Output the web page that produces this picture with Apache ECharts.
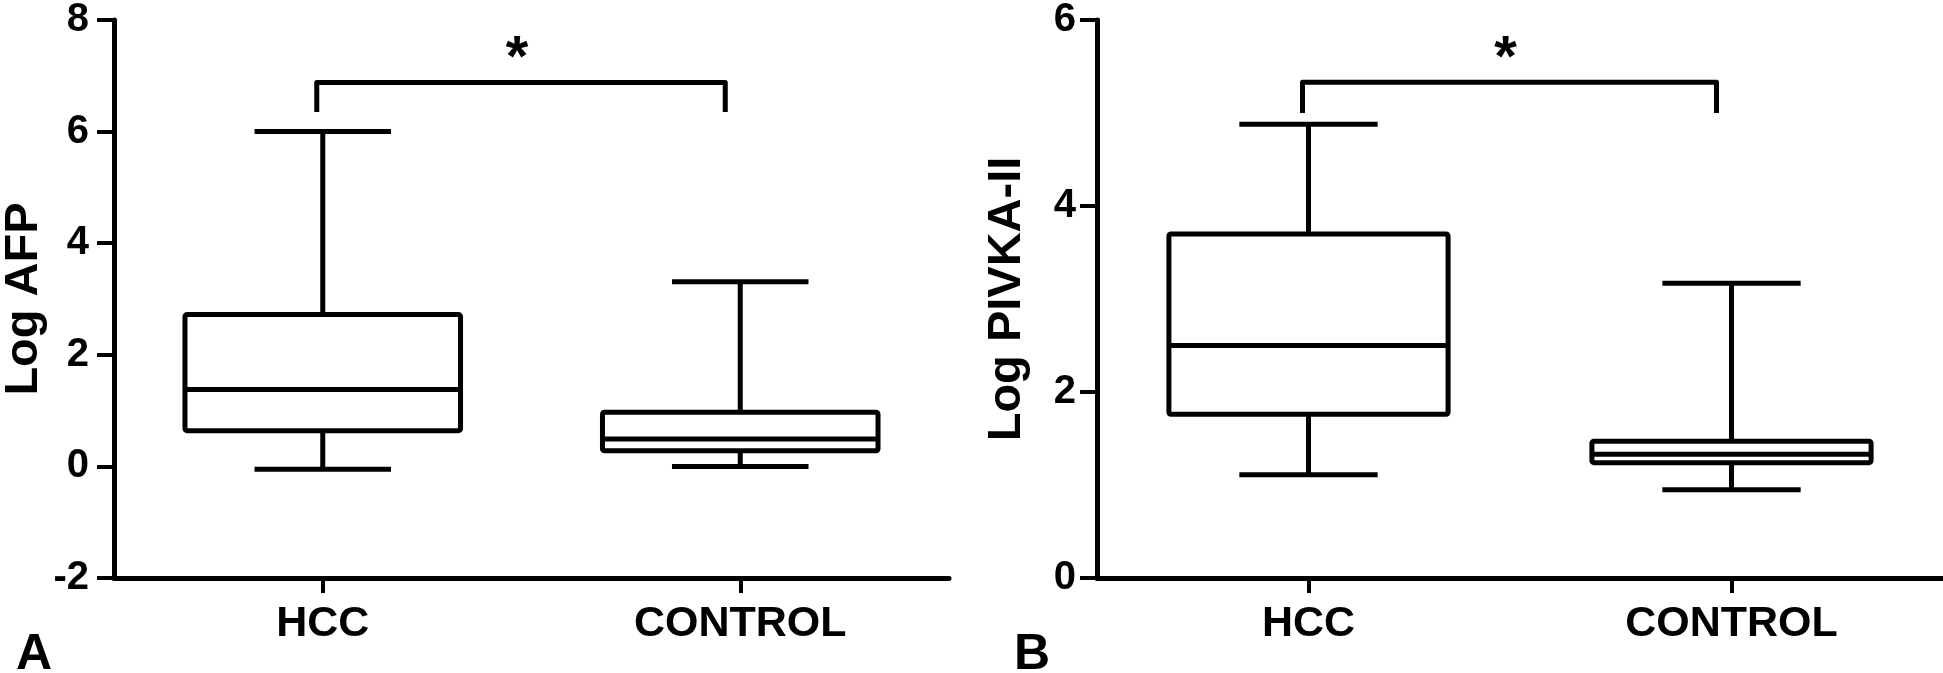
<!DOCTYPE html>
<html>
<head>
<meta charset="utf-8">
<script src="https://cdn.jsdelivr.net/npm/echarts@6/dist/echarts.min.js"></script>
<style>
  html, body { margin: 0; padding: 0; background: #fff; }
  #chart { width: 1943px; height: 673px; }
</style>
</head>
<body>
<div id="chart"></div>
<script>
// categories
var groups = ['HCC', 'CONTROL'];

// box values: [min, Q1, median, Q3, max]
var afpHCC = [-0.05, 0.64, 1.38, 2.72, 6.0];
var afpControl = [0.0, 0.28, 0.49, 0.97, 3.31];
var pivkaHCC = [1.11, 1.76, 2.5, 3.7, 4.88];
var pivkaControl = [0.95, 1.24, 1.33, 1.47, 3.17];

// significance bracket: [from, to, leg bottom, top]
var sigAfp = [0, 1, 6.35, 6.88];
var sigPivka = [0, 1, 5.0, 5.33];

var FONT = '"Liberation Sans", Arial, sans-serif';

function boxItem(i, v) {
  return [i, v[0], v[1], v[2], v[3], v[4]];
}

// 箱线图：须线端帽比箱子窄
function renderBox(params, api) {
  var x = api.value(0);
  var band = api.size([1, 0])[0];
  var boxW = band * 0.66, capW = band * 0.327;
  var pMin = api.coord([x, api.value(1)]);
  var pQ1 = api.coord([x, api.value(2)]);
  var pMed = api.coord([x, api.value(3)]);
  var pQ3 = api.coord([x, api.value(4)]);
  var pMax = api.coord([x, api.value(5)]);
  var cx = pMed[0];
  var st = { stroke: '#000', lineWidth: 5, fill: null };
  return {
    type: 'group',
    children: [
      { type: 'line', shape: { x1: cx, y1: pQ3[1], x2: cx, y2: pMax[1] }, style: st },
      { type: 'line', shape: { x1: cx - capW / 2, y1: pMax[1], x2: cx + capW / 2, y2: pMax[1] }, style: st },
      { type: 'line', shape: { x1: cx, y1: pQ1[1], x2: cx, y2: pMin[1] }, style: st },
      { type: 'line', shape: { x1: cx - capW / 2, y1: pMin[1], x2: cx + capW / 2, y2: pMin[1] }, style: st },
      { type: 'rect', shape: { x: cx - boxW / 2, y: pQ3[1], width: boxW, height: pQ1[1] - pQ3[1], r: 2 }, style: { stroke: '#000', lineWidth: 5, fill: '#fff' } },
      { type: 'line', shape: { x1: cx - boxW / 2, y1: pMed[1], x2: cx + boxW / 2, y2: pMed[1] }, style: st }
    ]
  };
}

// 显著性括号 + 星号（括号两脚略向左偏）
function renderSig(params, api) {
  var a0 = api.coord([api.value(0), api.value(2)]);
  var a1 = api.coord([api.value(0), api.value(3)]);
  var b1 = api.coord([api.value(1), api.value(3)]);
  var b0 = api.coord([api.value(1), api.value(2)]);
  var xa = a1[0] - 6, xb = b1[0] - 15;
  return {
    type: 'group',
    children: [
      { type: 'polyline', shape: { points: [[xa, a0[1]], [xa, a1[1]], [xb, b1[1]], [xb, b0[1]]] }, style: { stroke: '#000', lineWidth: 5, fill: null, lineJoin: 'round' } },
      { type: 'text', style: { text: '*', x: (xa + xb) / 2 - 4, y: a1[1] - 22, align: 'center', verticalAlign: 'middle', fill: '#000', font: 'bold 58px ' + FONT } }
    ]
  };
}

function xAxisOpt(idx) {
  return {
    type: 'category',
    gridIndex: idx,
    data: groups,
    axisLine: { onZero: false, lineStyle: { color: '#000', width: 5 } },
    axisTick: { show: true, alignWithLabel: true, length: 15, lineStyle: { color: '#000', width: 4 } },
    axisLabel: { color: '#000', fontSize: 43, fontWeight: 'bold', fontFamily: FONT, margin: 25 },
    splitLine: { show: false }
  };
}

function yAxisOpt(idx, name, min, max, margin) {
  return {
    type: 'value',
    gridIndex: idx,
    name: name,
    nameLocation: 'middle',
    nameGap: 66,
    nameTextStyle: { color: '#000', fontSize: 47, fontWeight: 'bold', fontFamily: FONT },
    min: min,
    max: max,
    interval: 2,
    axisLine: { show: true, lineStyle: { color: '#000', width: 5 } },
    axisTick: { show: true, length: 17, lineStyle: { color: '#000', width: 4 } },
    axisLabel: { color: '#000', fontSize: 40, fontWeight: 'bold', fontFamily: FONT, margin: margin },
    splitLine: { show: false }
  };
}

var chart = echarts.init(document.getElementById('chart'));
chart.setOption({
  backgroundColor: '#fff',
  animation: false,
  grid: [
    { left: 105, top: 16, width: 844, height: 562 },
    { left: 1097, top: 16, width: 846, height: 562 }
  ],
  xAxis: [xAxisOpt(0), xAxisOpt(1)],
  yAxis: [
    yAxisOpt(0, 'Log AFP', -2, 8, 25),
    yAxisOpt(1, 'Log PIVKA-II', 0, 6, 21)
  ],
  graphic: [
    { type: 'text', left: 16, top: 630, style: { text: 'A', fill: '#000', font: 'bold 50px ' + FONT } },
    { type: 'text', left: 1014, top: 630, style: { text: 'B', fill: '#000', font: 'bold 50px ' + FONT } }
  ],
  series: [
    {
      type: 'custom', xAxisIndex: 0, yAxisIndex: 0,
      renderItem: renderBox,
      encode: { x: 0, y: [1, 2, 3, 4, 5] },
      data: [boxItem(0, afpHCC), boxItem(1, afpControl)]
    },
    {
      type: 'custom', xAxisIndex: 0, yAxisIndex: 0,
      renderItem: renderSig,
      encode: { x: [0, 1], y: [2, 3] },
      data: [sigAfp]
    },
    {
      type: 'custom', xAxisIndex: 1, yAxisIndex: 1,
      renderItem: renderBox,
      encode: { x: 0, y: [1, 2, 3, 4, 5] },
      data: [boxItem(0, pivkaHCC), boxItem(1, pivkaControl)]
    },
    {
      type: 'custom', xAxisIndex: 1, yAxisIndex: 1,
      renderItem: renderSig,
      encode: { x: [0, 1], y: [2, 3] },
      data: [sigPivka]
    }
  ]
});
</script>
</body>
</html>
